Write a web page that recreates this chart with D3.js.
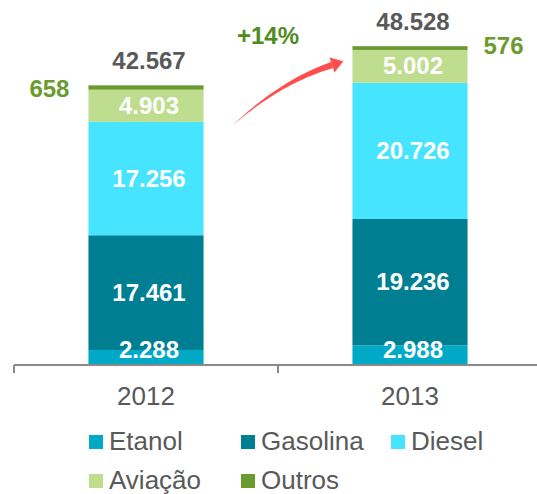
<!DOCTYPE html>
<html>
<head>
  <meta content="text/html;charset=utf-8" http-equiv="Content-Type">
  <title>Vendas por produto 2012-2013</title>
  <style type="text/css">
    body { margin: 0; background: #fff; }
    #chart text { font-family: "Liberation Sans", Arial, sans-serif; }
    .seg-label { fill: #fff; font-size: 24px; font-weight: bold; text-anchor: middle; }
    .total-label { fill: #595959; font-size: 24px; font-weight: bold; text-anchor: middle; }
    .outros-label { fill: #6b9a2e; font-size: 24px; font-weight: bold; text-anchor: middle; }
    .growth-label { fill: #4e8c1e; font-size: 24px; font-weight: bold; text-anchor: middle; }
    .year-label { fill: #595959; font-size: 26px; text-anchor: middle; }
    .legend text { fill: #595959; font-size: 26px; }
  </style>
  <script src="https://cdnjs.cloudflare.com/ajax/libs/d3/7.8.5/d3.min.js"></script>
  <script>

    var years = ['2012', '2013'];
    var series = ['Etanol', 'Gasolina', 'Diesel', 'Aviação', 'Outros'];
    var etanol = [2288, 2988];
    var gasolina = [17461, 19236];
    var diesel = [17256, 20726];
    var aviacao = [4903, 5002];
    var outros = [658, 576];
    var totals = [42567, 48528];
    var growth = '+14%';
    var colors = ['#00a9c6', '#007f93', '#47e4ff', '#bedd8e', '#6b9a2e'];

    var fmt = d3.format(',');
    function br(v) { return fmt(v).replace(/,/g, '.'); }

    function main() {
      var width = 537, height = 494;
      var svg = d3.select('#chart').attr('width', width).attr('height', height);

      var rows = years.map(function(y, i) {
        return { year: y, Etanol: etanol[i], Gasolina: gasolina[i], Diesel: diesel[i],
                 'Aviação': aviacao[i], Outros: outros[i] };
      });
      var stacked = d3.stack().keys(series)(rows);

      var x = d3.scaleBand().domain(years).range([14, 542]).padding(0);
      var barW = x.bandwidth() * 0.436;
      function barX(y) { return x(y) + (x.bandwidth() - barW) / 2; }
      function cx(y) { return x(y) + x.bandwidth() / 2; }

      var y = d3.scaleLinear().domain([0, 50000]).range([365, 365 - 50000 * 0.00657]);
      var color = d3.scaleOrdinal().domain(series).range(colors);

      // stacked bars
      var layer = svg.selectAll('g.layer').data(stacked).enter().append('g')
        .attr('class', 'layer').attr('fill', function(d) { return color(d.key); });

      layer.selectAll('rect').data(function(d) { return d; }).enter().append('rect')
        .attr('x', function(d) { return barX(d.data.year); })
        .attr('y', function(d) { return y(d[1]); })
        .attr('width', barW)
        .attr('height', function(d) { return y(d[0]) - y(d[1]); });

      // labels inside the segments (all but Outros)
      stacked.slice(0, 4).forEach(function(s) {
        svg.selectAll(null).data(s).enter().append('text')
          .attr('class', 'seg-label')
          .attr('x', function(d) { return cx(d.data.year) + 3; })
          .attr('y', function(d) { return Math.min((y(d[0]) + y(d[1])) / 2 + 8, 358); })
          .text(function(d) { return br(d[1] - d[0]); });
      });

      // Outros labels outside the bars
      var top = stacked[stacked.length - 1];
      svg.append('text').attr('class', 'outros-label')
        .attr('x', barX(years[0]) - 39).attr('y', y(top[0][1]) + 12)
        .text(br(outros[0]));
      svg.append('text').attr('class', 'outros-label')
        .attr('x', barX(years[1]) + barW + 36).attr('y', y(top[1][1]) + 8)
        .text(br(outros[1]));

      // totals
      svg.selectAll('text.total-label').data(top).enter().append('text')
        .attr('class', 'total-label')
        .attr('x', function(d) { return cx(d.data.year) + 3; })
        .attr('y', function(d) { return y(d[1]) - 16; })
        .text(function(d, i) { return br(totals[i]); });

      // axis
      var axisY = y(0);
      svg.append('line').attr('x1', x.range()[0]).attr('x2', x.range()[1])
        .attr('y1', axisY).attr('y2', axisY)
        .attr('stroke', '#898989').attr('stroke-width', 2);
      var edges = years.map(function(d) { return x(d); }).concat([x.range()[1]]);
      svg.selectAll('line.tick').data(edges).enter().append('line')
        .attr('class', 'tick')
        .attr('x1', function(d) { return d; }).attr('x2', function(d) { return d; })
        .attr('y1', axisY).attr('y2', axisY + 8)
        .attr('stroke', '#898989').attr('stroke-width', 2);
      svg.selectAll('text.year-label').data(years).enter().append('text')
        .attr('class', 'year-label')
        .attr('x', function(d) { return cx(d); })
        .attr('y', axisY + 40)
        .text(function(d) { return d; });

      // growth arrow
      var p0 = [232, 126], pc = [280, 82], p1 = [332, 65];
      function q(t) {
        var a = (1 - t) * (1 - t), b = 2 * t * (1 - t), c = t * t;
        return [a * p0[0] + b * pc[0] + c * p1[0], a * p0[1] + b * pc[1] + c * p1[1]];
      }
      function qd(t) {
        var dx = 2 * (1 - t) * (pc[0] - p0[0]) + 2 * t * (p1[0] - pc[0]);
        var dy = 2 * (1 - t) * (pc[1] - p0[1]) + 2 * t * (p1[1] - pc[1]);
        var l = Math.sqrt(dx * dx + dy * dy);
        return [dx / l, dy / l];
      }
      var left = [], right = [];
      d3.range(0, 1.0001, 0.05).forEach(function(t) {
        var p = q(t), d = qd(t), w = 3.2 * t;
        left.push([p[0] - d[1] * w, p[1] + d[0] * w]);
        right.push([p[0] + d[1] * w, p[1] - d[0] * w]);
      });
      var shaft = left.concat(right.reverse());
      svg.append('path').attr('d', d3.line()(shaft) + 'Z').attr('fill', '#ff4d4d');
      var dEnd = qd(1), tip = [p1[0] + dEnd[0] * 12, p1[1] + dEnd[1] * 12];
      var head = [[p1[0] - dEnd[1] * 8, p1[1] + dEnd[0] * 8], tip,
                  [p1[0] + dEnd[1] * 8, p1[1] - dEnd[0] * 8]];
      svg.append('path').attr('d', d3.line()(head) + 'Z').attr('fill', '#ff4d4d');

      svg.append('text').attr('class', 'growth-label')
        .attr('x', 268).attr('y', 44).text(growth);

      // legend
      var legendPos = [[89, 450], [241, 450], [391, 450], [89, 489], [241, 489]];
      var legend = svg.append('g').attr('class', 'legend');
      var item = legend.selectAll('g').data(series).enter().append('g')
        .attr('transform', function(d, i) {
          return 'translate(' + legendPos[i][0] + ',' + legendPos[i][1] + ')';
        });
      item.append('rect').attr('x', 0).attr('y', -15).attr('width', 14).attr('height', 14)
        .attr('fill', function(d) { return color(d); });
      item.append('text').attr('x', 20).attr('y', 0).text(function(d) { return d; });
    }

  </script>
</head>
<body onload="main()">
  <svg id="chart"></svg>
</body>
</html>
